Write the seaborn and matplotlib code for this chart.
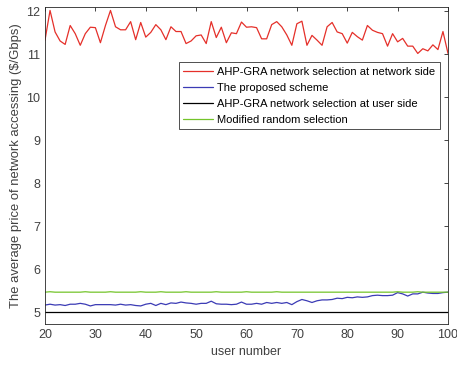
import numpy as np
import pandas as pd
import matplotlib
matplotlib.use("Agg")
import matplotlib.pyplot as plt
import seaborn as sns

# user numbers 20..100
users = list(range(20, 101))

# AHP-GRA at network side (red)
network_side = [11.33, 12.02, 11.52, 11.31, 11.23, 11.67, 11.48, 11.21, 11.48, 11.63,
                11.62, 11.27, 11.67, 12.02, 11.64, 11.57, 11.57, 11.76, 11.34, 11.74,
                11.40, 11.51, 11.69, 11.57, 11.34, 11.64, 11.53, 11.53, 11.25, 11.31,
                11.43, 11.45, 11.25, 11.76, 11.39, 11.63, 11.27, 11.50, 11.48, 11.75,
                11.63, 11.64, 11.62, 11.36, 11.36, 11.69, 11.76, 11.64, 11.45, 11.21,
                11.71, 11.77, 11.21, 11.44, 11.33, 11.21, 11.64, 11.74, 11.52, 11.48,
                11.26, 11.51, 11.41, 11.33, 11.67, 11.56, 11.51, 11.48, 11.19, 11.48,
                11.29, 11.37, 11.19, 11.19, 11.02, 11.13, 11.08, 11.22, 11.11, 11.53,
                11.02]

# proposed scheme (blue)
proposed = [5.17, 5.19, 5.17, 5.18, 5.16, 5.19, 5.19, 5.21, 5.19, 5.15,
            5.18, 5.18, 5.18, 5.18, 5.17, 5.19, 5.17, 5.18, 5.16, 5.15,
            5.19, 5.21, 5.16, 5.21, 5.18, 5.22, 5.21, 5.24, 5.22, 5.21,
            5.19, 5.21, 5.21, 5.26, 5.20, 5.19, 5.19, 5.18, 5.19, 5.24,
            5.19, 5.19, 5.21, 5.19, 5.23, 5.21, 5.23, 5.21, 5.23, 5.18,
            5.25, 5.30, 5.27, 5.23, 5.27, 5.29, 5.29, 5.30, 5.33, 5.32,
            5.35, 5.34, 5.36, 5.35, 5.36, 5.39, 5.40, 5.39, 5.39, 5.40,
            5.46, 5.43, 5.38, 5.43, 5.43, 5.47, 5.45, 5.44, 5.44, 5.46,
            5.47]

# AHP-GRA at user side (black)
user_side = [5.0] * len(users)

# modified random selection (green)
random_sel = [5.47, 5.48, 5.47, 5.47, 5.47, 5.47, 5.47, 5.47, 5.48, 5.47,
              5.47, 5.47, 5.47, 5.48, 5.47, 5.47, 5.47, 5.47, 5.47, 5.48,
              5.47, 5.47, 5.47, 5.48, 5.47, 5.47, 5.47, 5.47, 5.48, 5.47,
              5.47, 5.47, 5.47, 5.47, 5.48, 5.47, 5.47, 5.47, 5.47, 5.47,
              5.48, 5.47, 5.47, 5.47, 5.47, 5.47, 5.48, 5.47, 5.47, 5.47,
              5.47, 5.47, 5.47, 5.47, 5.47, 5.47, 5.47, 5.47, 5.47, 5.47,
              5.47, 5.47, 5.47, 5.47, 5.47, 5.47, 5.47, 5.47, 5.47, 5.47,
              5.48, 5.47, 5.47, 5.47, 5.48, 5.47, 5.47, 5.47, 5.47, 5.47,
              5.47]

labels = ["AHP-GRA network selection at network side",
          "The proposed scheme",
          "AHP-GRA network selection at user side",
          "Modified random selection"]
colors = ["#e5302a", "#3b3bb5", "#000000", "#74c42a"]

df = pd.concat([
    pd.DataFrame({"user number": users, "price": vals, "scheme": lab})
    for vals, lab in zip([network_side, proposed, user_side, random_sel], labels)
])

sns.set_style("white")
plt.rcParams["font.family"] = ["Liberation Sans", "DejaVu Sans"]

fig = plt.figure(figsize=(4.57, 3.67), dpi=100)
ax = fig.add_axes([45 / 457, 1 - 324 / 367, 403 / 457, 317 / 367])

sns.lineplot(data=df, x="user number", y="price", hue="scheme",
             hue_order=labels, palette=colors, linewidth=0.9, ax=ax)

ax.set_xlim(20, 100)
ax.set_ylim(4.73, 12.1)
ax.set_xticks(range(20, 101, 10))
ax.set_yticks(range(5, 13))

grey = "#262626"
for s in ax.spines.values():
    s.set_color(grey)
    s.set_linewidth(0.6)
ax.tick_params(direction="in", top=True, right=True, length=3, width=0.6,
               colors=grey, labelcolor="#404040", labelsize=9)

ax.set_xlabel("user number", fontsize=9, color="#404040")
ax.set_ylabel("The average price of network accessing ($/Gbps)", fontsize=9.4,
              color="#404040", labelpad=3)

leg = ax.legend(loc="upper right", bbox_to_anchor=(0.98, 0.826), fontsize=8,
                frameon=True, fancybox=False, handlelength=2.7,
                borderpad=0.4, labelspacing=0.55, handletextpad=0.35,
                borderaxespad=0)
leg.get_frame().set_edgecolor("#000000")
leg.get_frame().set_linewidth(0.6)
for t in leg.get_texts():
    t.set_color("#000000")

fig.savefig("out.png", dpi=100)
